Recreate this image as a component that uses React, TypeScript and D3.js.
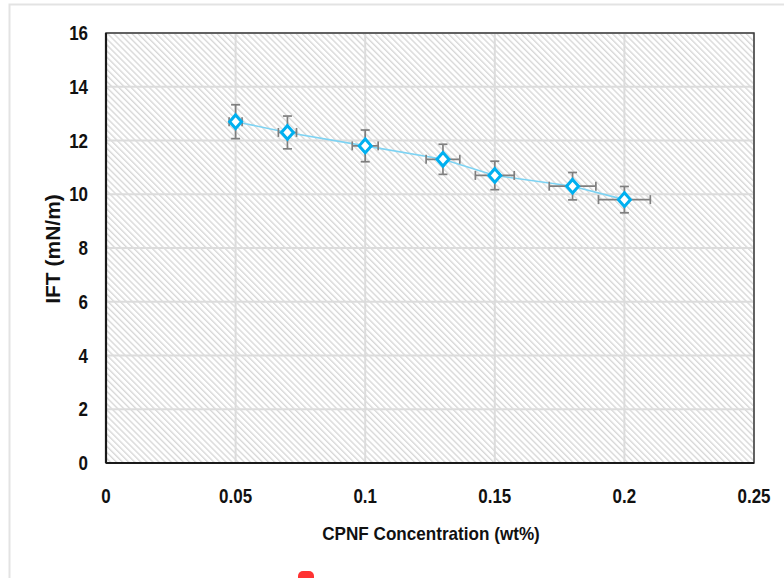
import React from "react";
import * as d3 from "d3";

const concentration = [0.05, 0.07, 0.1, 0.13, 0.15, 0.18, 0.2];
const ift = [12.7, 12.3, 11.8, 11.3, 10.7, 10.3, 9.8];
const iftError = [0.63, 0.61, 0.59, 0.56, 0.53, 0.51, 0.49];
const concError = [0.0025, 0.0035, 0.005, 0.0065, 0.0075, 0.009, 0.01];
const xTicks = [0, 0.05, 0.1, 0.15, 0.2, 0.25];
const xTickLabels = ["0", "0.05", "0.1", "0.15", "0.2", "0.25"];
const yTicks = [0, 2, 4, 6, 8, 10, 12, 14, 16];

const W = 784;
const H = 578;
const M = { left: 106, top: 33, right: 754, bottom: 463 };
const FONT = "'Liberation Sans', Arial, sans-serif";

function Label(props: {
  x: number;
  y: number;
  size: number;
  sx?: number;
  anchor?: "start" | "middle" | "end";
  rotate?: number;
  children: React.ReactNode;
}) {
  const { x, y, size, sx = 1, anchor = "middle", rotate = 0 } = props;
  return (
    <text
      transform={`translate(${x},${y}) rotate(${rotate}) scale(${sx},1)`}
      textAnchor={anchor}
      fontFamily={FONT}
      fontWeight="bold"
      fontSize={size}
      fill="#111"
    >
      {props.children}
    </text>
  );
}

export default function App() {
  const x = d3.scaleLinear().domain([0, 0.25]).range([M.left, M.right]);
  const y = d3.scaleLinear().domain([0, 16]).range([M.bottom, M.top]);
  const pts = concentration.map((c, i) => ({ c, v: ift[i], ey: iftError[i], ex: concError[i] }));
  const line = d3
    .line<{ c: number; v: number }>()
    .x((d) => x(d.c))
    .y((d) => y(d.v));
  const diamond = (cx: number, cy: number, rx: number, ry: number) =>
    `M${cx},${cy - ry}L${cx + rx},${cy}L${cx},${cy + ry}L${cx - rx},${cy}Z`;
  const cap = 4.5;
  const errColor = "#7f7f7f";

  return (
    <svg
      width={W}
      height={H}
      style={{ position: "absolute", left: 0, top: 0, display: "block", background: "#fff" }}
    >
      <defs>
        <pattern
          id="hatch"
          patternUnits="userSpaceOnUse"
          width={4.3}
          height={4.3}
          patternTransform="rotate(-45)"
        >
          <rect width={4.3} height={4.3} fill="#ffffff" />
          <line x1={0.7} y1={0} x2={0.7} y2={4.3} stroke="#d6d6d6" strokeWidth={1.3} />
        </pattern>
      </defs>

      {/* outer frame */}
      <path d={`M9.5,${H}V4.5H${W}`} fill="none" stroke="#e3e3e3" strokeWidth={2} />

      {/* plot background */}
      <rect
        x={M.left}
        y={M.top}
        width={M.right - M.left}
        height={M.bottom - M.top}
        fill="url(#hatch)"
      />

      {/* gridlines */}
      {yTicks.map((t) => (
        <line key={"gy" + t} x1={M.left} x2={M.right} y1={y(t)} y2={y(t)} stroke="#dcdcdc" strokeWidth={2} />
      ))}
      {xTicks.map((t) => (
        <line key={"gx" + t} x1={x(t)} x2={x(t)} y1={M.top} y2={M.bottom} stroke="#dcdcdc" strokeWidth={2} />
      ))}

      {/* plot frame */}
      <rect
        x={M.left}
        y={M.top}
        width={M.right - M.left}
        height={M.bottom - M.top}
        fill="none"
        stroke="#3a3a3a"
        strokeWidth={1.5}
      />
      <line x1={M.left} x2={M.left} y1={M.top} y2={M.bottom} stroke="#1a1a1a" strokeWidth={2.2} />
      <line x1={M.left} x2={M.right} y1={M.bottom} y2={M.bottom} stroke="#1a1a1a" strokeWidth={2.2} />

      {/* connecting line */}
      <path d={line(pts) || ""} fill="none" stroke="#7dd3f3" strokeWidth={1.6} />

      {/* error bars */}
      {pts.map((p, i) => {
        const cx = x(p.c);
        const cy = y(p.v);
        const y0 = y(p.v - p.ey);
        const y1 = y(p.v + p.ey);
        const x0 = x(p.c - p.ex);
        const x1 = x(p.c + p.ex);
        return (
          <g key={"e" + i} stroke={errColor} strokeWidth={1.7} fill="none">
            <line x1={cx} x2={cx} y1={y0} y2={y1} />
            <line x1={cx - cap} x2={cx + cap} y1={y0} y2={y0} />
            <line x1={cx - cap} x2={cx + cap} y1={y1} y2={y1} />
            <line x1={x0} x2={x1} y1={cy} y2={cy} />
            <line x1={x0} x2={x0} y1={cy - cap} y2={cy + cap} />
            <line x1={x1} x2={x1} y1={cy - cap} y2={cy + cap} />
          </g>
        );
      })}

      {/* markers */}
      {pts.map((p, i) => (
        <path
          key={"m" + i}
          d={diamond(x(p.c), y(p.v), 6, 6.8)}
          fill="#ffffff"
          stroke="#00b0f0"
          strokeWidth={3}
          strokeLinejoin="miter"
        />
      ))}

      {/* y tick labels */}
      {yTicks.map((t) => (
        <Label key={"ty" + t} x={88} y={y(t) + 7} size={19.5} sx={0.87} anchor="end">
          {t}
        </Label>
      ))}

      {/* x tick labels */}
      {xTicks.map((t, i) => (
        <Label key={"tx" + t} x={x(t)} y={503} size={19.5} sx={0.87}>
          {xTickLabels[i]}
        </Label>
      ))}

      {/* axis titles */}
      <Label x={(M.left + M.right) / 2 + 1} y={540} size={18.6} sx={0.92}>
        CPNF Concentration (wt%)
      </Label>
      <Label x={60} y={(M.top + M.bottom) / 2 + 1} size={21} rotate={-90}>
        IFT (mN/m)
      </Label>

      {/* red mark at bottom */}
      <rect x={298} y={571} width={16} height={12} rx={5} fill="#ff3333" />
    </svg>
  );
}
